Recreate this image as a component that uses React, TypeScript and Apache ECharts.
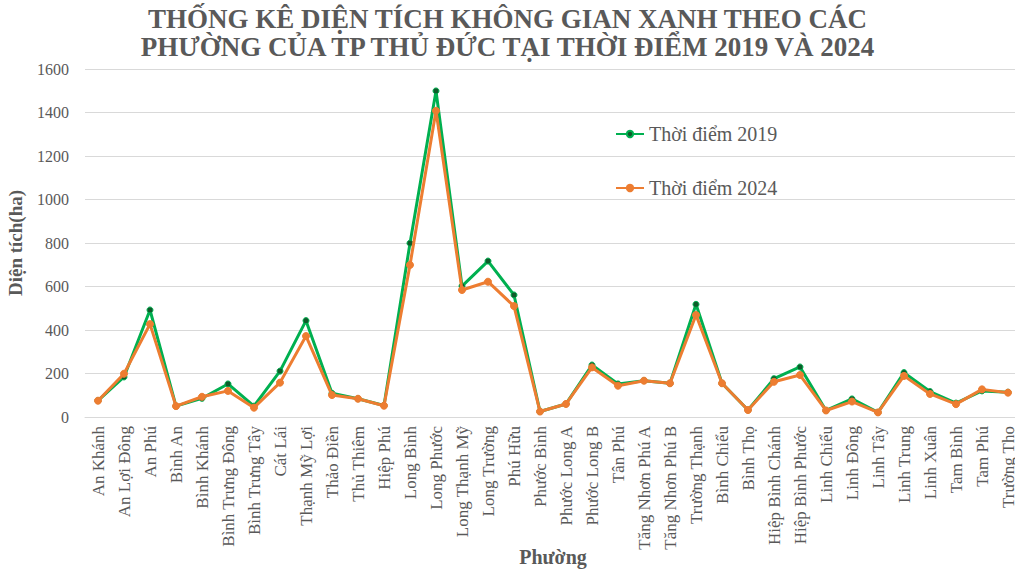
import React, { useEffect, useRef } from "react";
import * as echarts from "echarts";

const categories = [
  "An Khánh", "An Lợi Đông", "An Phú", "Bình An", "Bình Khánh", "Bình Trưng Đông",
  "Bình Trưng Tây", "Cát Lái", "Thạnh Mỹ Lợi", "Thảo Điền", "Thủ Thiêm", "Hiệp Phú",
  "Long Bình", "Long Phước", "Long Thạnh Mỹ", "Long Trường", "Phú Hữu", "Phước Bình",
  "Phước Long A", "Phước Long B", "Tân Phú", "Tăng Nhơn Phú A", "Tăng Nhơn Phú B",
  "Trường Thạnh", "Bình Chiểu", "Bình Thọ", "Hiệp Bình Chánh", "Hiệp Bình Phước",
  "Linh Chiểu", "Linh Đông", "Linh Tây", "Linh Trung", "Linh Xuân", "Tam Bình",
  "Tam Phú", "Trường Thọ",
];

const values2019 = [
  75, 184, 492, 50, 86, 152, 50, 211, 443, 109, 84, 53,
  799, 1499, 602, 717, 561, 25, 60, 239, 152, 167, 155,
  518, 155, 32, 176, 230, 30, 83, 21, 204, 117, 64, 120, 114,
];

const values2024 = [
  75, 199, 427, 50, 93, 120, 43, 158, 372, 101, 84, 52,
  699, 1408, 584, 622, 510, 25, 60, 228, 144, 167, 155,
  469, 155, 32, 162, 193, 30, 71, 21, 189, 106, 59, 127, 112,
];

const yTicks = { min: 0, max: 1600, interval: 200 };

const serif = "'Liberation Serif', 'DejaVu Serif', serif";

export default function App() {
  const ref = useRef<HTMLDivElement>(null);
  useEffect(() => {
    if (!ref.current) return;
    const chart = echarts.init(ref.current, undefined, { renderer: "svg" });
    chart.setOption({
      animation: false,
      backgroundColor: "#ffffff",
      title: {
        text: "THỐNG KÊ DIỆN TÍCH KHÔNG GIAN XANH THEO CÁC\nPHƯỜNG CỦA TP THỦ ĐỨC TẠI THỜI ĐIỂM 2019 VÀ 2024",
        left: "center",
        top: 0,
        textStyle: {
          fontFamily: serif,
          fontWeight: "bold",
          fontSize: 27,
          lineHeight: 28,
          color: "#595959",
          align: "center",
        },
      },
      legend: {
        orient: "vertical",
        left: 610,
        top: 119,
        itemGap: 34,
        itemWidth: 28,
        itemHeight: 8,
        textStyle: { fontFamily: serif, fontSize: 20, lineHeight: 20, color: "#595959" },
        data: ["Thời điểm 2019", "Thời điểm 2024"],
      },
      grid: { left: 85, right: -6, top: 69, bottom: 152, outerBoundsMode: "none", containLabel: false },
      xAxis: {
        type: "category",
        data: categories,
        boundaryGap: true,
        name: "Phường",
        nameLocation: "middle",
        nameGap: 130,
        nameMoveOverlap: false,
        nameTextStyle: { fontFamily: serif, fontWeight: "bold", fontSize: 20, color: "#595959" },
        axisLine: { lineStyle: { color: "#d9d9d9", width: 1 } },
        axisTick: { show: false },
        axisLabel: {
          rotate: 90,
          interval: 0,
          fontFamily: serif,
          fontSize: 17,
          color: "#595959",
          margin: 9,
        },
      },
      yAxis: {
        type: "value",
        min: yTicks.min,
        max: yTicks.max,
        interval: yTicks.interval,
        name: "Diện tích(ha)",
        nameLocation: "middle",
        nameGap: 60,
        nameMoveOverlap: false,
        nameTextStyle: { fontFamily: serif, fontWeight: "bold", fontSize: 19, color: "#595959" },
        axisLine: { show: false },
        axisTick: { show: false },
        axisLabel: {
          fontFamily: serif,
          fontSize: 16,
          color: "#595959",
          margin: 16,
          formatter: (v: number) => String(v),
        },
        splitLine: { lineStyle: { color: "#d9d9d9", width: 1 } },
      },
      series: [
        {
          name: "Thời điểm 2019",
          type: "line",
          data: values2019,
          symbol: "circle",
          symbolSize: 6,
          lineStyle: { color: "#00B050", width: 3 },
          itemStyle: { color: "#0d5c2a", borderColor: "#00B050", borderWidth: 1 },
          z: 3,
        },
        {
          name: "Thời điểm 2024",
          type: "line",
          data: values2024,
          symbol: "circle",
          symbolSize: 7,
          lineStyle: { color: "#ED7D31", width: 3 },
          itemStyle: { color: "#ED7D31", borderColor: "#ED7D31", borderWidth: 1 },
          z: 4,
        },
      ],
    });
    return () => chart.dispose();
  }, []);
  return (
    <div
      ref={ref}
      style={{ position: "fixed", left: 0, top: 0, width: 1015, height: 569, background: "#fff" }}
    />
  );
}
